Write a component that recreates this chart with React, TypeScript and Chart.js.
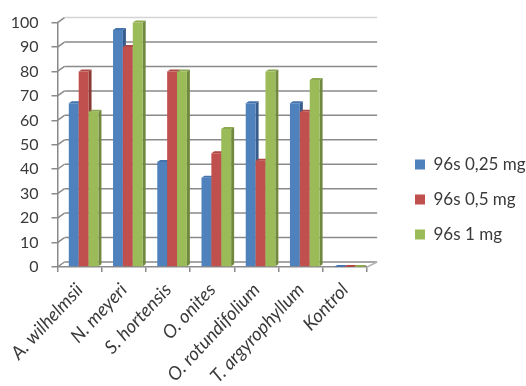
import { useEffect, useRef } from "react";
import { Chart, registerables } from "chart.js";

Chart.register(...registerables);

const categories = ["A. wilhelmsii", "N. meyeri", "S. hortensis", "O. onites", "O. rotundifolium", "T. argyrophyllum", "Kontrol"];
const low = [67, 97, 43, 36.5, 67, 67, 0];
const mid = [80, 90, 80, 46.5, 43.5, 63.5, 0];
const high = [63.5, 100, 80, 56.5, 80, 76.5, 0];

const FONT = "Lato";
const AXIS = "#8a8a8a";
const BACK_DX = 7;
const BACK_DY = 5;
const DEPTH_X = 3;
const DEPTH_Y = 2;
const BAR_SHIFT = 4;

const faces = [
  { front: "#4F81BD", side: "#385D8A", top: "#4573AB" },
  { front: "#C0504D", side: "#8C3836", top: "#AD4845" },
  { front: "#9BBB59", side: "#71893F", top: "#8CA950" },
];

function poly(ctx: CanvasRenderingContext2D, pts: number[][], fill: string) {
  ctx.fillStyle = fill;
  ctx.beginPath();
  pts.forEach(([x, y], i) => (i ? ctx.lineTo(x, y) : ctx.moveTo(x, y)));
  ctx.closePath();
  ctx.fill();
}

const frame = {
  id: "frame",
  beforeDatasetsDraw(chart: any) {
    const { ctx, scales, chartArea } = chart;
    const y = scales.y;
    ctx.save();

    // Back wall, floor and the slanted connectors of the pseudo-3D frame.
    ctx.lineWidth = 1.5;
    y.ticks.forEach((t: any) => {
      const py = y.getPixelForValue(t.value);
      ctx.strokeStyle = t.value === 100 ? "#d4d4d4" : AXIS;
      ctx.beginPath();
      ctx.moveTo(chartArea.left + BACK_DX, py - BACK_DY);
      ctx.lineTo(chartArea.right + 10, py - BACK_DY);
      ctx.stroke();
      ctx.strokeStyle = AXIS;
      ctx.beginPath();
      ctx.moveTo(chartArea.left, py);
      ctx.lineTo(chartArea.left + BACK_DX, py - BACK_DY);
      ctx.stroke();
    });
    ctx.strokeStyle = "#b4b4b4";
    ctx.beginPath();
    ctx.moveTo(chartArea.right, chartArea.bottom);
    ctx.lineTo(chartArea.right + 10, chartArea.bottom - BACK_DY);
    ctx.stroke();

    // Bars stand a little into the depth of the floor. Series are painted in
    // order, so each bar's front covers the side of its left neighbour.
    ctx.translate(BAR_SHIFT, 0);
    chart.data.datasets.forEach((_: any, i: number) => {
      const c = faces[i];
      chart.getDatasetMeta(i).data.forEach((bar: any) => {
        const half = bar.width / 2;
        const l = bar.x - half;
        const r = bar.x + half;
        poly(ctx, [[r, bar.y], [r + DEPTH_X, bar.y - DEPTH_Y], [r + DEPTH_X, bar.base - DEPTH_Y], [r, bar.base]], c.side);
        poly(ctx, [[l, bar.y], [l + DEPTH_X, bar.y - DEPTH_Y], [r + DEPTH_X, bar.y - DEPTH_Y], [r, bar.y]], c.top);
        bar.draw(ctx);
      });
    });
    ctx.restore();
    return false;
  },
  // The legend sits away from the plot, lower and further right than its box would place it.
  afterLayout(chart: any) {
    const legend = chart.legend;
    legend.left = 397;
    legend.right = 526;
    legend.top = 138;
    legend.bottom = 270;
  },
};

export default function App() {
  const ref = useRef<HTMLCanvasElement>(null);

  useEffect(() => {
    const chart = new Chart(ref.current!, {
      type: "bar",
      data: {
        labels: categories,
        datasets: [
          { label: "96s 0,25 mg", data: low, backgroundColor: faces[0].front },
          { label: "96s 0,5 mg", data: mid, backgroundColor: faces[1].front },
          { label: "96s 1 mg", data: high, backgroundColor: faces[2].front },
        ],
      },
      options: {
        responsive: false,
        animation: false,
        layout: { padding: { top: 21, left: 0, right: 36.5, bottom: 0 } },
        datasets: { bar: { categoryPercentage: 0.67, barPercentage: 1 } },
        plugins: {
          title: { display: false },
          tooltip: { enabled: false },
          legend: {
            position: "right",
            align: "start",
            labels: {
              boxWidth: 10,
              boxHeight: 10,
              padding: 18,
              color: "#3a3a3a",
              font: { family: FONT, size: 17 },
            },
          },
        },
        scales: {
          x: {
            afterFit: (s: any) => { s.height = 119; },
            grid: { offset: true, drawOnChartArea: false, color: AXIS, lineWidth: 1.5, tickLength: 5 },
            border: { color: AXIS, width: 1.5 },
            ticks: {
              autoSkip: false,
              minRotation: 47,
              maxRotation: 47,
              padding: 7,
              color: "#3a3a3a",
              font: { family: FONT, size: 18.5, style: "italic" },
            },
          },
          y: {
            min: 0,
            max: 100,
            afterFit: (s: any) => { s.width = 57.5; },
            grid: { drawOnChartArea: false, color: AXIS, lineWidth: 1.5, tickLength: 6 },
            border: { color: AXIS, width: 1.5 },
            ticks: {
              stepSize: 10,
              padding: 13,
              color: "#3a3a3a",
              font: { family: FONT, size: 16 },
            },
          },
        },
      },
      plugins: [frame],
    } as any);
    return () => chart.destroy();
  }, []);

  return (
    <div style={{ position: "absolute", left: 0, top: 0, width: 526, height: 386, background: "#fff" }}>
      <canvas ref={ref} width={526} height={386} style={{ display: "block" }} />
    </div>
  );
}
